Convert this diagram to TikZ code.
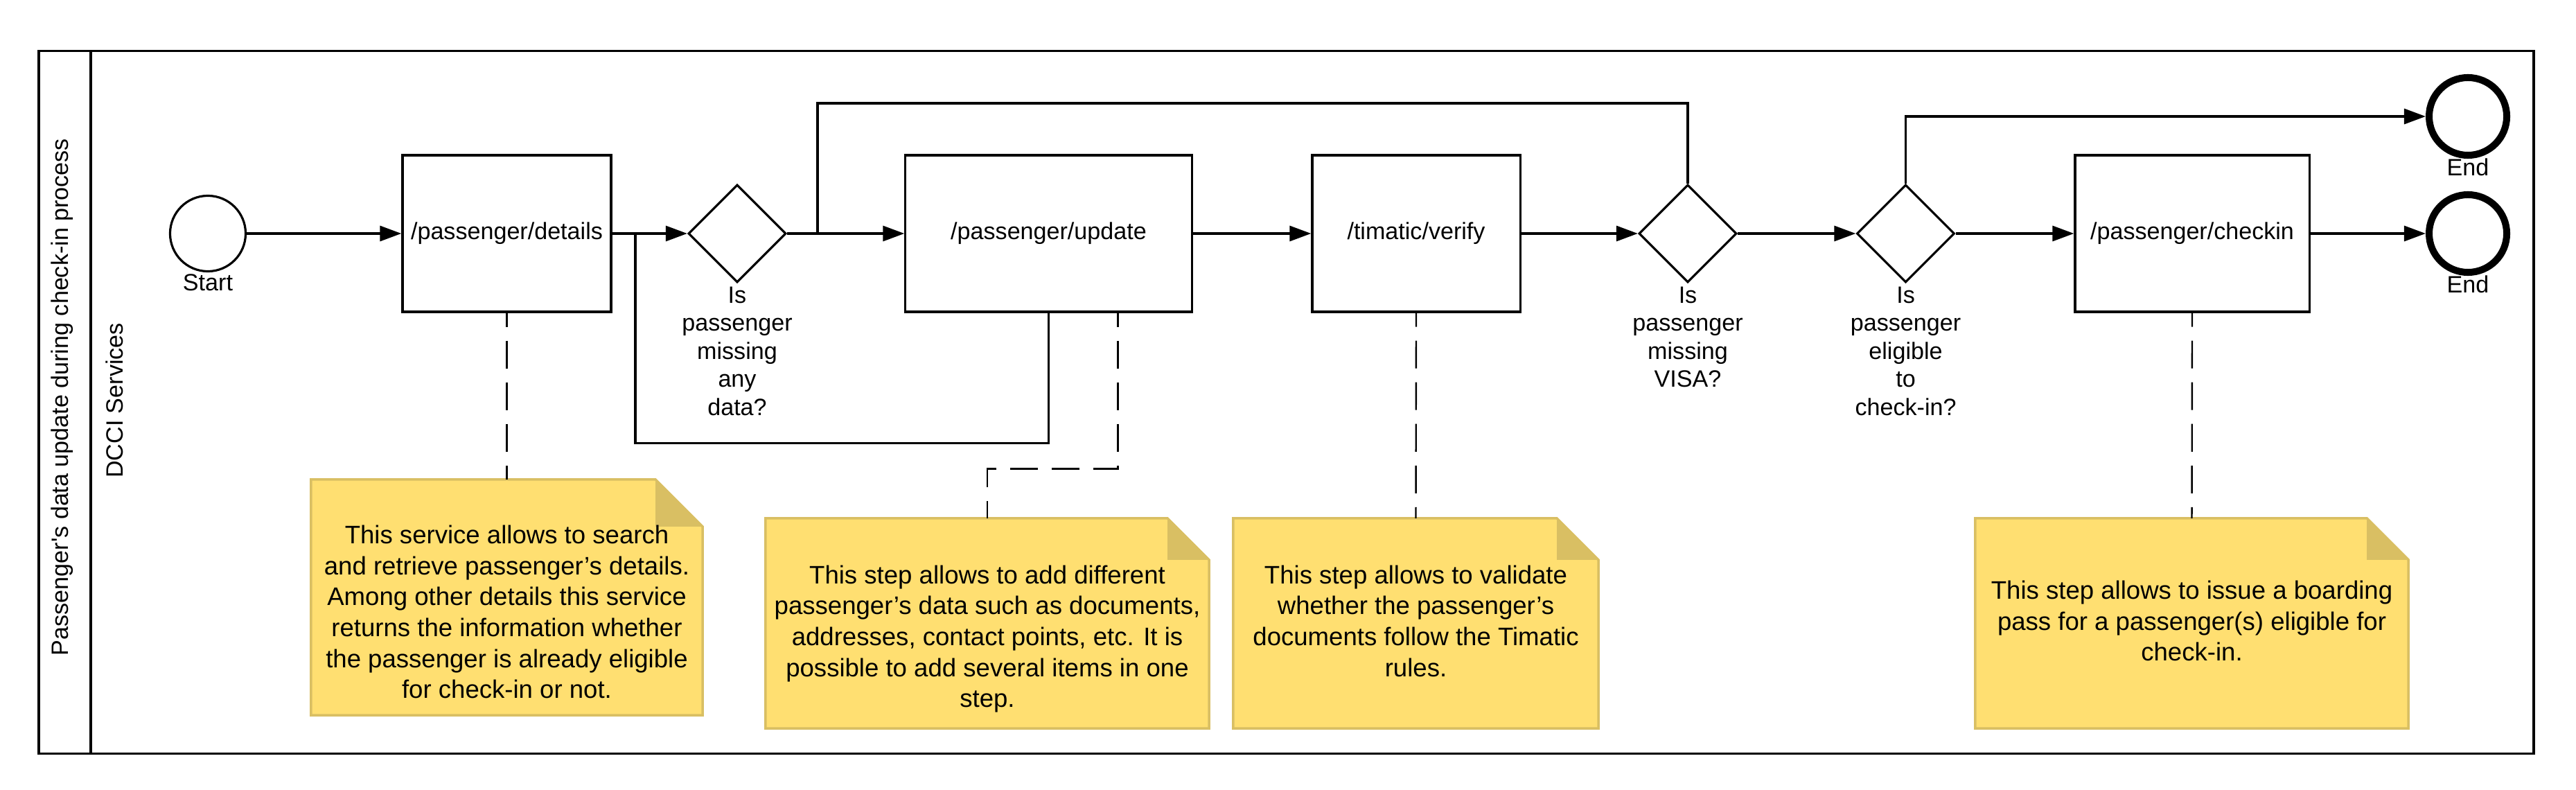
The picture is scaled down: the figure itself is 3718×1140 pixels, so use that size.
\documentclass[tikz,border=0pt]{standalone}
\usepackage{fontspec}
\setmainfont{Liberation Sans}
\usetikzlibrary{arrows.meta,shapes.geometric,calc}
\definecolor{notefill}{HTML}{FFDF71}
\definecolor{notedark}{HTML}{D9BF63}
\tikzset{
  base/.style={font=\fontsize{9.7}{11.5}\selectfont},
  task/.style={draw, line width=0.91pt, rectangle, inner sep=0pt, minimum height=2.26cm, fill=white},
  gate/.style={draw, line width=0.91pt, diamond, aspect=1, inner sep=0pt, minimum width=1.41cm, minimum height=1.41cm, fill=white},
  startev/.style={draw, circle, line width=0.91pt, minimum size=1.09cm, inner sep=0pt},
  endev/.style={draw, circle, line width=2.85pt, minimum size=1.12cm, inner sep=0pt},
  evlabel/.style={anchor=north, inner sep=0pt, align=center},
  flow/.style={line width=0.95pt, -{Triangle[length=0.31cm,width=0.22cm]}},
  seg/.style={line width=0.95pt},
  assoc/.style={line width=0.68pt, dash pattern=on 11.38pt off 5.69pt, dash phase=5.69pt},
  notebase/.style={rectangle, inner sep=0pt, outer sep=0pt},
  notebody/.style={fill=notefill, draw=notedark, line width=1pt, line join=miter},
  notefold/.style={fill=notedark},
  notetext/.style={font=\fontsize{10.4}{12.7}\selectfont, align=center, inner sep=0pt},
  pool/.style={draw, line width=1pt},
}
\newcommand\mknote[8]{%
  \node[notebase, minimum width=#4, minimum height=#5] (#1) at (#2,#3) {};
  \draw[notebody] (#1.north west) -- ([xshift=-#6]#1.north east) -- ([yshift=-#6]#1.north east) -- (#1.south east) -- (#1.south west) -- cycle;
  \fill[notefold] ([xshift=-#6]#1.north east) -- ([xshift=-#6,yshift=-#6]#1.north east) -- ([yshift=-#6]#1.north east) -- cycle;
  \node[notetext] (#1t) at (#2,#7) {#8};
}
\begin{document}
\begin{tikzpicture}[x=0.01cm, y=-0.01cm, base]
\useasboundingbox (0,0) rectangle (3718,1140);
% pool and lane
\node[pool, rectangle, minimum width=35.99cm, minimum height=10.13cm, inner sep=0pt, outer sep=0pt] (pool) at (1856.5,580.5) {};
\draw[pool] (131,74) -- (131,1087);
\node[rotate=90] (pooltitle) at (90,573) {Passenger\textquotesingle s data update during check-in process};
\node[rotate=90] (lanetitle) at (165,578) {DCCI Services};

% flow nodes
\node[startev] (start) at (300,337) {};
\node[evlabel] (startl) at ([yshift=-0.02cm]start.south) {Start};
\node[task, minimum width=3.01cm] (details) at (731.5,337) {/passenger/details};
\node[gate] (d1) at (1064,337) {};
\node[evlabel] (d1l) at ([yshift=-0.04cm]d1.south) {Is\\passenger\\missing\\any\\data?};
\node[task, minimum width=4.13cm] (update) at (1513.5,337) {/passenger/update};
\node[task, minimum width=3.00cm] (timatic) at (2044,337) {/timatic/verify};
\node[gate] (d3) at (2436,337) {};
\node[evlabel] (d3l) at ([yshift=-0.04cm]d3.south) {Is\\passenger\\missing\\VISA?};
\node[gate] (d4) at (2750.5,337) {};
\node[evlabel] (d4l) at ([yshift=-0.04cm]d4.south) {Is\\passenger\\eligible\\to\\check-in?};
\node[task, minimum width=3.38cm] (checkin) at (3164,337) {/passenger/checkin};
\node[endev] (end1) at (3562,168) {};
\node[evlabel] (end1l) at ([yshift=0.01cm]end1.south) {End};
\node[endev] (end2) at (3562,337) {};
\node[evlabel] (end2l) at ([yshift=0.01cm]end2.south) {End};

% notes
\mknote{n1}{731.5}{862}{5.65cm}{3.40cm}{0.68cm}{883}{This service allows to search\\and retrieve passenger’s details.\\Among other details this service\\returns the information whether\\the passenger is already eligible\\for check-in or not.}
\mknote{n2}{1425}{899.5}{6.40cm}{3.03cm}{0.60cm}{922}{This step allows to add different\\passenger’s data such as documents,\\addresses, contact points, etc. It is\\possible to add several items in one\\step.}
\mknote{n3}{2043.5}{899.5}{5.27cm}{3.03cm}{0.60cm}{896}{This step allows to validate\\whether the passenger’s\\documents follow the Timatic\\rules.}
\mknote{n4}{3163.5}{899.5}{6.25cm}{3.03cm}{0.60cm}{896}{This step allows to issue a boarding\\pass for a passenger(s) eligible for\\check-in.}

% junction points
\coordinate (j1) at (917,337);
\coordinate (j2) at (1180,337);

% sequence flows
\draw[flow] (start) -- (details);
\draw[flow] (details) -- (d1);
\draw[flow] (d1) -- (update);
\draw[flow] (update) -- (timatic);
\draw[flow] (timatic) -- (d3);
\draw[flow] (d3) -- (d4);
\draw[flow] (d4) -- (checkin);
\draw[flow] (checkin) -- (end2);
\draw[flow] (d4.north) |- (end1);
\draw[seg] (update.south) -- ++(0,188) -| (j1);
\draw[seg] (d3.north) -- ++(0,-116) -| (j2);

% associations
\draw[assoc] (details.south) -- (n1.north);
\draw[assoc] ([xshift=1cm]update.south) -- ++(0,225) -| (n2.north);
\draw[assoc] (timatic.south) -- (n3.north);
\draw[assoc] (checkin.south) -- (n4.north);
\end{tikzpicture}
\end{document}
